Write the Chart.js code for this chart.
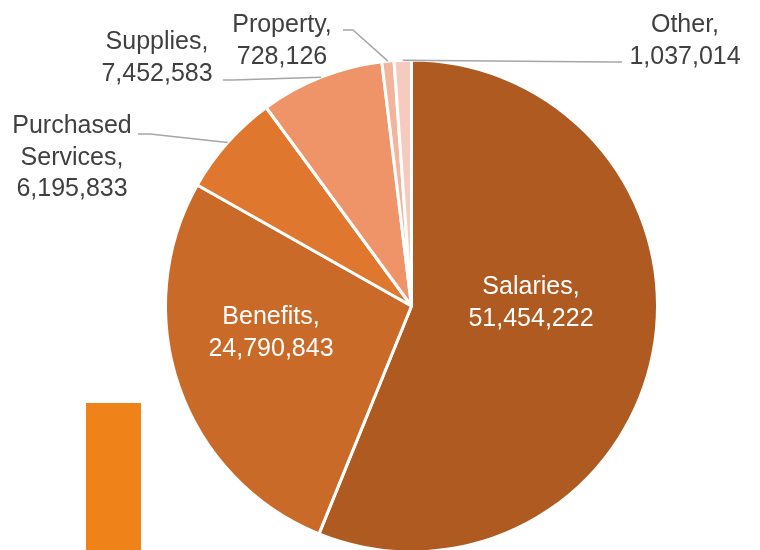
<!DOCTYPE html>
<html lang="en">
<head>
<meta charset="UTF-8">
<title>Expenditures by Object</title>
<script src="https://cdn.jsdelivr.net/npm/chart.js"></script>
<style>
  html, body { margin: 0; padding: 0; background: #fff; }
  canvas { display: block; }
</style>
</head>
<body>
<canvas id="expenseChart" width="760" height="550"></canvas>
<script>
  const categories = ['Salaries', 'Benefits', 'Purchased Services', 'Supplies', 'Property', 'Other'];
  const amounts = [51454222, 24790843, 6195833, 7452583, 728126, 1037014];
  const sliceColors = ['#AE5A21', '#C96A29', '#DF772F', '#EF9468', '#F2B49B', '#F6CBBF'];

  // label placement: centre x, baseline of first line, and leader start/elbow
  const labelSpots = [
    { x: 531, y: 294, color: '#FFFFFF' },
    { x: 271, y: 324, color: '#FFFFFF' },
    { x: 72, y: 133, color: '#404040', wrap: true, leader: [[138, 134], [150, 134]] },
    { x: 157, y: 49, color: '#404040', leader: [[223, 80], [233, 80]] },
    { x: 282, y: 32, color: '#404040', leader: [[343, 30], [353, 30]] },
    { x: 685, y: 32, color: '#404040', leader: [[622, 62], [612, 62]] }
  ];
  const lineGap = 31.5;

  // the orange bar down in the lower left corner
  const accentBar = {
    id: 'accentBar',
    beforeDatasetsDraw(chart) {
      const ctx = chart.ctx;
      ctx.save();
      ctx.fillStyle = '#F0821A';
      ctx.fillRect(86, 403, 55, 147);
      ctx.restore();
    }
  };

  const sliceLabels = {
    id: 'sliceLabels',
    afterDatasetsDraw(chart) {
      const ctx = chart.ctx;
      const arcs = chart.getDatasetMeta(0).data;
      ctx.save();
      ctx.font = '25px "Liberation Sans", Arial, sans-serif';
      ctx.textAlign = 'center';
      ctx.textBaseline = 'alphabetic';
      arcs.forEach((arc, i) => {
        const spot = labelSpots[i];
        const p = arc.getProps(['x', 'y', 'startAngle', 'endAngle', 'outerRadius'], true);
        const mid = (p.startAngle + p.endAngle) / 2;

        if (spot.leader) {
          const ax = p.x + Math.cos(mid) * p.outerRadius;
          const ay = p.y + Math.sin(mid) * p.outerRadius;
          ctx.strokeStyle = '#A6A6A6';
          ctx.lineWidth = 1.5;
          ctx.beginPath();
          ctx.moveTo(spot.leader[0][0], spot.leader[0][1]);
          ctx.lineTo(spot.leader[1][0], spot.leader[1][1]);
          ctx.lineTo(ax, ay);
          ctx.stroke();
        }

        const name = categories[i];
        const lines = spot.wrap ? name.split(' ') : [name];
        lines[lines.length - 1] += ',';
        lines.push(amounts[i].toLocaleString('en-US'));

        ctx.fillStyle = spot.color;
        lines.forEach((txt, k) => ctx.fillText(txt, spot.x, spot.y + k * lineGap));
      });
      ctx.restore();
    }
  };

  new Chart(document.getElementById('expenseChart'), {
    type: 'pie',
    data: {
      labels: categories,
      datasets: [{
        data: amounts,
        backgroundColor: sliceColors,
        borderColor: '#FFFFFF',
        borderWidth: 3
      }]
    },
    options: {
      responsive: false,
      animation: false,
      radius: 246,
      layout: { padding: { top: 62, left: 63, right: 0, bottom: 0 } },
      plugins: {
        legend: { display: false },
        tooltip: { enabled: false }
      }
    },
    plugins: [accentBar, sliceLabels]
  });
</script>
</body>
</html>
